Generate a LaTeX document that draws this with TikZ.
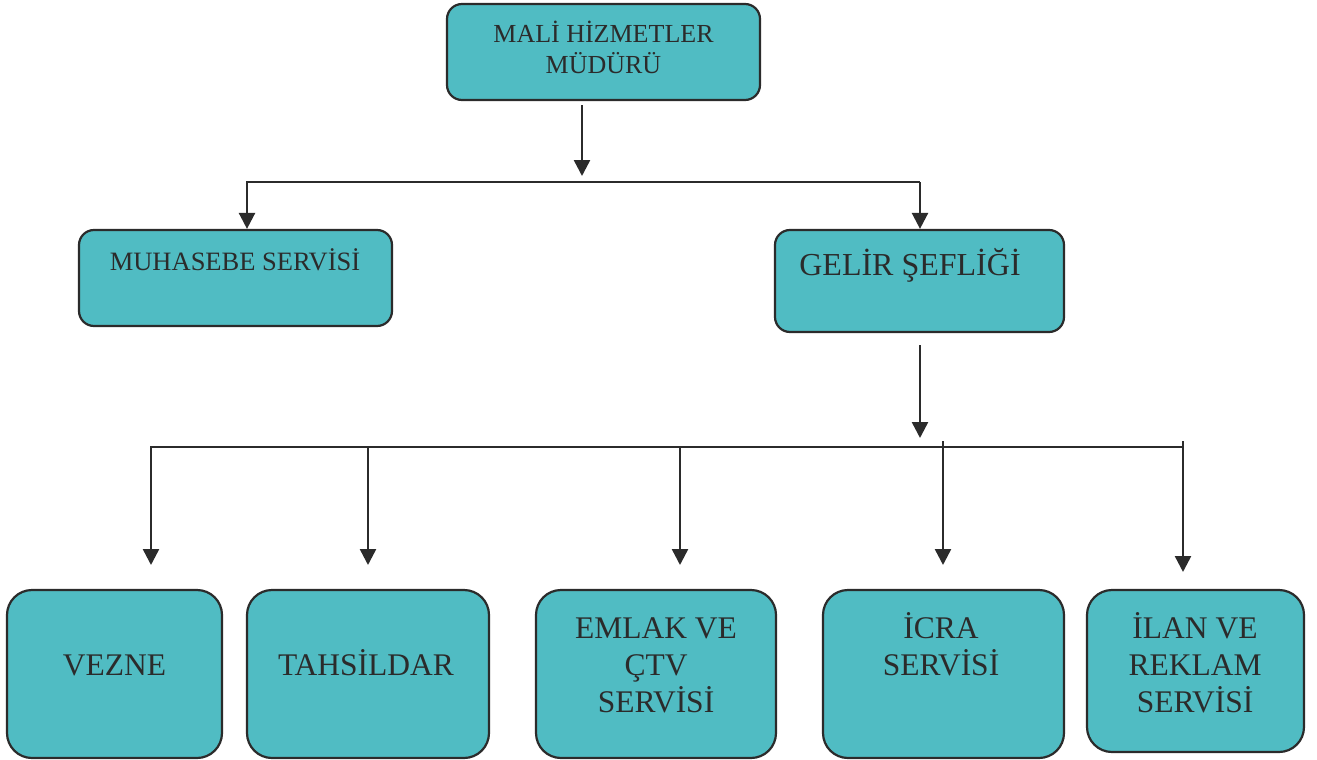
\documentclass[tikz,border=0pt]{standalone}
\usepackage{fontspec}
\setmainfont{Liberation Serif}
\usetikzlibrary{arrows.meta}
\definecolor{boxfill}{HTML}{50BCC3}
\definecolor{ink}{HTML}{2B2B2B}
\begin{document}
\begin{tikzpicture}[x=1pt,y=-1pt,
  box/.style={draw=ink, line width=2.2pt, fill=boxfill, rounded corners=15pt, inner sep=0pt},
  bigbox/.style={box, rounded corners=25pt},
  txt/.style={text=ink, anchor=base, inner sep=0pt},
  arr/.style={draw=ink, line width=2.5pt, -{Triangle[width=16pt,length=16pt]}},
  ln/.style={draw=ink, line width=2.5pt}]
\useasboundingbox (0,0) rectangle (1317,760);

% boxes
\node[box, minimum width=313pt, minimum height=96pt] (top) at (603.5,52) {};
\node[box, minimum width=313pt, minimum height=96pt] (muh) at (235.5,278) {};
\node[box, minimum width=289pt, minimum height=102pt] (gel) at (919.5,281) {};
\node[bigbox, minimum width=215pt, minimum height=168pt] (vez) at (114.5,674) {};
\node[bigbox, minimum width=242pt, minimum height=168pt] (tah) at (368,674) {};
\node[bigbox, minimum width=240pt, minimum height=168pt] (eml) at (656,674) {};
\node[bigbox, minimum width=241pt, minimum height=168pt] (icr) at (943.5,674) {};
\node[bigbox, minimum width=217pt, minimum height=162pt] (ila) at (1195.5,671) {};

% texts
\node[txt, font=\fontsize{26}{30}\selectfont] (top1) at (603.5,43) {MALİ HİZMETLER};
\node[txt, font=\fontsize{26}{30}\selectfont] (top2) at (603.5,74) {MÜDÜRÜ};
\node[txt, font=\fontsize{26.5}{30}\selectfont] (muht) at (235,270) {MUHASEBE SERVİSİ};
\node[txt, font=\fontsize{32}{36}\selectfont] (gelt) at (910,275) {GELİR ŞEFLİĞİ};
\node[txt, font=\fontsize{31.5}{36}\selectfont] (vezt) at (114.5,675) {VEZNE};
\node[txt, font=\fontsize{31.5}{36}\selectfont] (taht) at (366,675) {TAHSİLDAR};
\node[txt, font=\fontsize{31.5}{36}\selectfont] (eml1) at (656,638) {EMLAK VE};
\node[txt, font=\fontsize{31.5}{36}\selectfont] (eml2) at (656,675) {ÇTV};
\node[txt, font=\fontsize{31.5}{36}\selectfont] (eml3) at (656,712) {SERVİSİ};
\node[txt, font=\fontsize{31.5}{36}\selectfont] (icr1) at (941,638) {İCRA};
\node[txt, font=\fontsize{31.5}{36}\selectfont] (icr2) at (941,675) {SERVİSİ};
\node[txt, font=\fontsize{31.5}{36}\selectfont] (ila1) at (1195,638) {İLAN VE};
\node[txt, font=\fontsize{31.5}{36}\selectfont] (ila2) at (1195,675) {REKLAM};
\node[txt, font=\fontsize{31.5}{36}\selectfont] (ila3) at (1195,712) {SERVİSİ};

% first level connectors
\coordinate (a1) at (582,105);
\coordinate (a2) at (582,176);
\draw[arr] (a1) -- (a2);
\coordinate (b1) at (247,182);
\coordinate (b2) at (920,182);
\draw[arr] (b2) -- (b1) -- (b1 |- muh.north);
\draw[arr] (b2) -- (b2 |- gel.north);

% second level connectors
\coordinate (c1) at (920,345);
\coordinate (c2) at (920,438);
\draw[arr] (c1) -- (c2);
\coordinate (d1) at (151,447);
\coordinate (d2) at (368,447);
\coordinate (d3) at (680,447);
\coordinate (d5) at (1183,447);
\coordinate (e1) at (151,565);
\coordinate (e2) at (368,565);
\coordinate (e3) at (680,565);
\coordinate (f4) at (943,441);
\coordinate (e4) at (943,565);
\coordinate (f5) at (1183,441);
\coordinate (e5) at (1183,572);
\draw[ln] (d1) -- (d5);
\draw[arr] (d5) -- (d1) -- (e1);
\draw[arr] (d2) -- (e2);
\draw[arr] (d3) -- (e3);
\draw[arr] (f4) -- (e4);
\draw[arr] (f5) -- (e5);
\end{tikzpicture}
\end{document}
